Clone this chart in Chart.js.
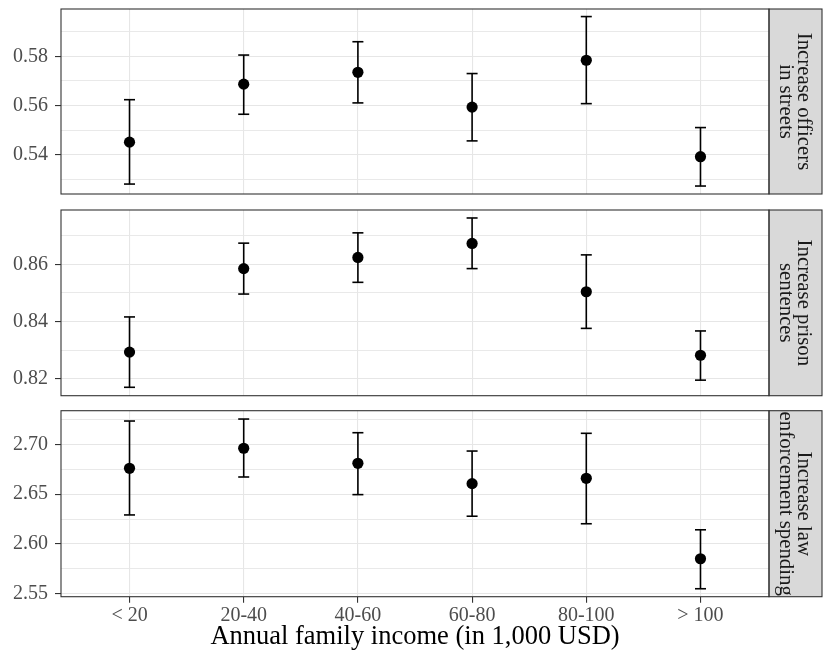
<!DOCTYPE html>
<html>
<head>
<meta charset="utf-8">
<script src="https://cdn.jsdelivr.net/npm/chart.js@4.4.1/dist/chart.umd.min.js"></script>
<style>
  html, body { margin: 0; padding: 0; background: #ffffff; }
  #wrap { position: relative; width: 823px; height: 654px; }
  #wrap canvas { position: absolute; left: 0; top: 0; }
</style>
</head>
<body>
<div id="wrap">
  <canvas id="c1" width="823" height="654"></canvas>
  <canvas id="c2" width="823" height="654"></canvas>
  <canvas id="c3" width="823" height="654"></canvas>
</div>
<script>
// ---------- data ----------
const categories = ['< 20', '20-40', '40-60', '60-80', '80-100', '> 100'];

const officersEst = [0.5452, 0.5687, 0.5735, 0.5594, 0.5784, 0.5393];
const officersLo  = [0.5282, 0.5565, 0.5611, 0.5457, 0.5608, 0.5274];
const officersHi  = [0.5624, 0.5805, 0.5859, 0.5730, 0.5961, 0.5511];

const prisonEst = [0.8293, 0.8585, 0.8624, 0.8673, 0.8504, 0.8282];
const prisonLo  = [0.8170, 0.8496, 0.8537, 0.8585, 0.8376, 0.8195];
const prisonHi  = [0.8416, 0.8674, 0.8710, 0.8762, 0.8633, 0.8367];

const spendingEst = [2.6762, 2.6964, 2.6812, 2.6607, 2.6661, 2.5849];
const spendingLo  = [2.6291, 2.6674, 2.6496, 2.6278, 2.6202, 2.5546];
const spendingHi  = [2.7239, 2.7259, 2.7121, 2.6936, 2.7115, 2.6141];

const officersTicks = [0.53, 0.54, 0.55, 0.56, 0.57, 0.58, 0.59];
const officersMajor = [0.54, 0.56, 0.58];
const prisonTicks = [0.82, 0.83, 0.84, 0.85, 0.86, 0.87];
const prisonMajor = [0.82, 0.84, 0.86];
const spendingTicks = [2.55, 2.575, 2.60, 2.625, 2.65, 2.675, 2.70, 2.725];
const spendingMajor = [2.55, 2.60, 2.65, 2.70];

const officersStrip = ['Increase officers', 'in streets'];
const prisonStrip = ['Increase prison', 'sentences'];
const spendingStrip = ['Increase law', 'enforcement spending'];

const xTitle = 'Annual family income (in 1,000 USD)';

// ---------- helpers ----------
const FONT = "'Liberation Serif', 'Times New Roman', serif";
const isIn = (v, arr) => arr.some(m => Math.abs(m - v) < 1e-9);

const panelDeco = {
  id: 'panelDeco',
  afterDraw(chart, args, opts) {
    const {ctx, chartArea: a} = chart;
    ctx.save();
    // strip
    const sx = a.right, sw = 53;
    ctx.fillStyle = '#d9d9d9';
    ctx.fillRect(sx, a.top, sw, a.bottom - a.top);
    ctx.strokeStyle = '#333333';
    ctx.lineWidth = 1.1;
    ctx.strokeRect(sx, a.top, sw, a.bottom - a.top);
    // strip text
    ctx.save();
    ctx.beginPath();
    ctx.rect(sx + 0.5, a.top + 0.5, sw - 1, a.bottom - a.top - 1);
    ctx.clip();
    ctx.translate(sx + sw / 2, (a.top + a.bottom) / 2);
    ctx.rotate(Math.PI / 2);
    ctx.fillStyle = '#1a1a1a';
    ctx.font = '20.8px ' + FONT;
    ctx.textAlign = 'center';
    ctx.textBaseline = 'middle';
    const lines = opts.lines || [];
    const lh = 18.5;
    const n = lines.length;
    lines.forEach((t, i) => {
      const off = (i - (n - 1) / 2) * lh;
      ctx.fillText(t, 0, off + 1);
    });
    ctx.restore();
    // panel border
    ctx.strokeStyle = '#333333';
    ctx.lineWidth = 1.1;
    ctx.strokeRect(a.left, a.top, a.right - a.left, a.bottom - a.top);
    ctx.restore();
  }
};

function makePanel(id, est, lo, hi, yTicks, yMajor, yMin, yMax, strip, padTop, padBottom, showX) {
  const points = est.map((v, i) => ({x: i + 1, y: v}));
  const bars = [];
  lo.forEach((v, i) => {
    bars.push({x: i + 1, y: v});
    bars.push({x: i + 1, y: hi[i]});
    bars.push({x: i + 1, y: null});
  });
  new Chart(document.getElementById(id), {
    type: 'scatter',
    data: {
      datasets: [
        {
          data: bars,
          showLine: true,
          spanGaps: false,
          borderColor: '#000000',
          borderWidth: 1.6,
          pointStyle: 'line',
          pointRadius: 5.5,
          pointBorderColor: '#000000',
          pointBorderWidth: 1.6,
          pointHoverRadius: 5.5,
          clip: false
        },
        {
          data: points,
          pointStyle: 'circle',
          pointRadius: 5.6,
          pointHoverRadius: 5.6,
          pointBackgroundColor: '#000000',
          pointBorderWidth: 0,
          clip: false
        }
      ]
    },
    options: {
      responsive: false,
      animation: false,
      devicePixelRatio: 1,
      events: [],
      layout: { padding: { left: 0, right: 54, top: padTop, bottom: padBottom } },
      plugins: {
        legend: { display: false },
        tooltip: { enabled: false },
        panelDeco: { lines: strip }
      },
      scales: {
        x: {
          type: 'linear',
          min: 0.4,
          max: 6.6,
          afterBuildTicks(scale) {
            scale.ticks = categories.map((c, i) => ({value: i + 1}));
          },
          afterFit(scale) {
            scale.height = showX ? 57.3 : 0;
            scale.paddingLeft = 0;
            scale.paddingRight = 0;
          },
          border: { display: false },
          grid: {
            color: '#e6e6e6',
            lineWidth: 1.1,
            drawTicks: showX,
            tickLength: 6,
            tickColor: '#333333',
            tickWidth: 1.1
          },
          ticks: {
            display: showX,
            autoSkip: false,
            maxRotation: 0,
            padding: 1,
            color: '#4d4d4d',
            font: { family: FONT, size: 20 },
            callback: (v) => categories[Math.round(v) - 1]
          },
          title: {
            display: showX,
            text: xTitle,
            color: '#000000',
            font: { family: FONT, size: 26.5, lineHeight: 1.2 },
            padding: { top: 0, bottom: 1.2 }
          }
        },
        y: {
          type: 'linear',
          min: yMin,
          max: yMax,
          afterBuildTicks(scale) {
            scale.ticks = yTicks.map(v => ({value: v}));
          },
          afterFit(scale) {
            scale.width = 61;
            scale.paddingTop = 0;
            scale.paddingBottom = 0;
          },
          border: { display: false },
          grid: {
            color: '#e6e6e6',
            lineWidth: (c) => (c.tick && isIn(c.tick.value, yMajor)) ? 1.1 : 0.9,
            drawTicks: true,
            tickLength: 6,
            tickColor: (c) => (c.tick && isIn(c.tick.value, yMajor)) ? '#333333' : 'rgba(0,0,0,0)',
            tickWidth: 1.1
          },
          ticks: {
            autoSkip: false,
            padding: 7,
            color: '#4d4d4d',
            font: { family: FONT, size: 20 },
            callback: (v) => isIn(v, yMajor) ? v.toFixed(2) : ''
          }
        }
      }
    },
    plugins: [panelDeco]
  });
}

makePanel('c1', officersEst, officersLo, officersHi, officersTicks, officersMajor,
  0.52417, 0.59917, officersStrip, 9, 460, false);
makePanel('c2', prisonEst, prisonLo, prisonHi, prisonTicks, prisonMajor,
  0.81406, 0.87899, prisonStrip, 210, 258.3, false);
makePanel('c3', spendingEst, spendingLo, spendingHi, spendingTicks, spendingMajor,
  2.54657, 2.73432, spendingStrip, 410.7, 0, true);
</script>
</body>
</html>
